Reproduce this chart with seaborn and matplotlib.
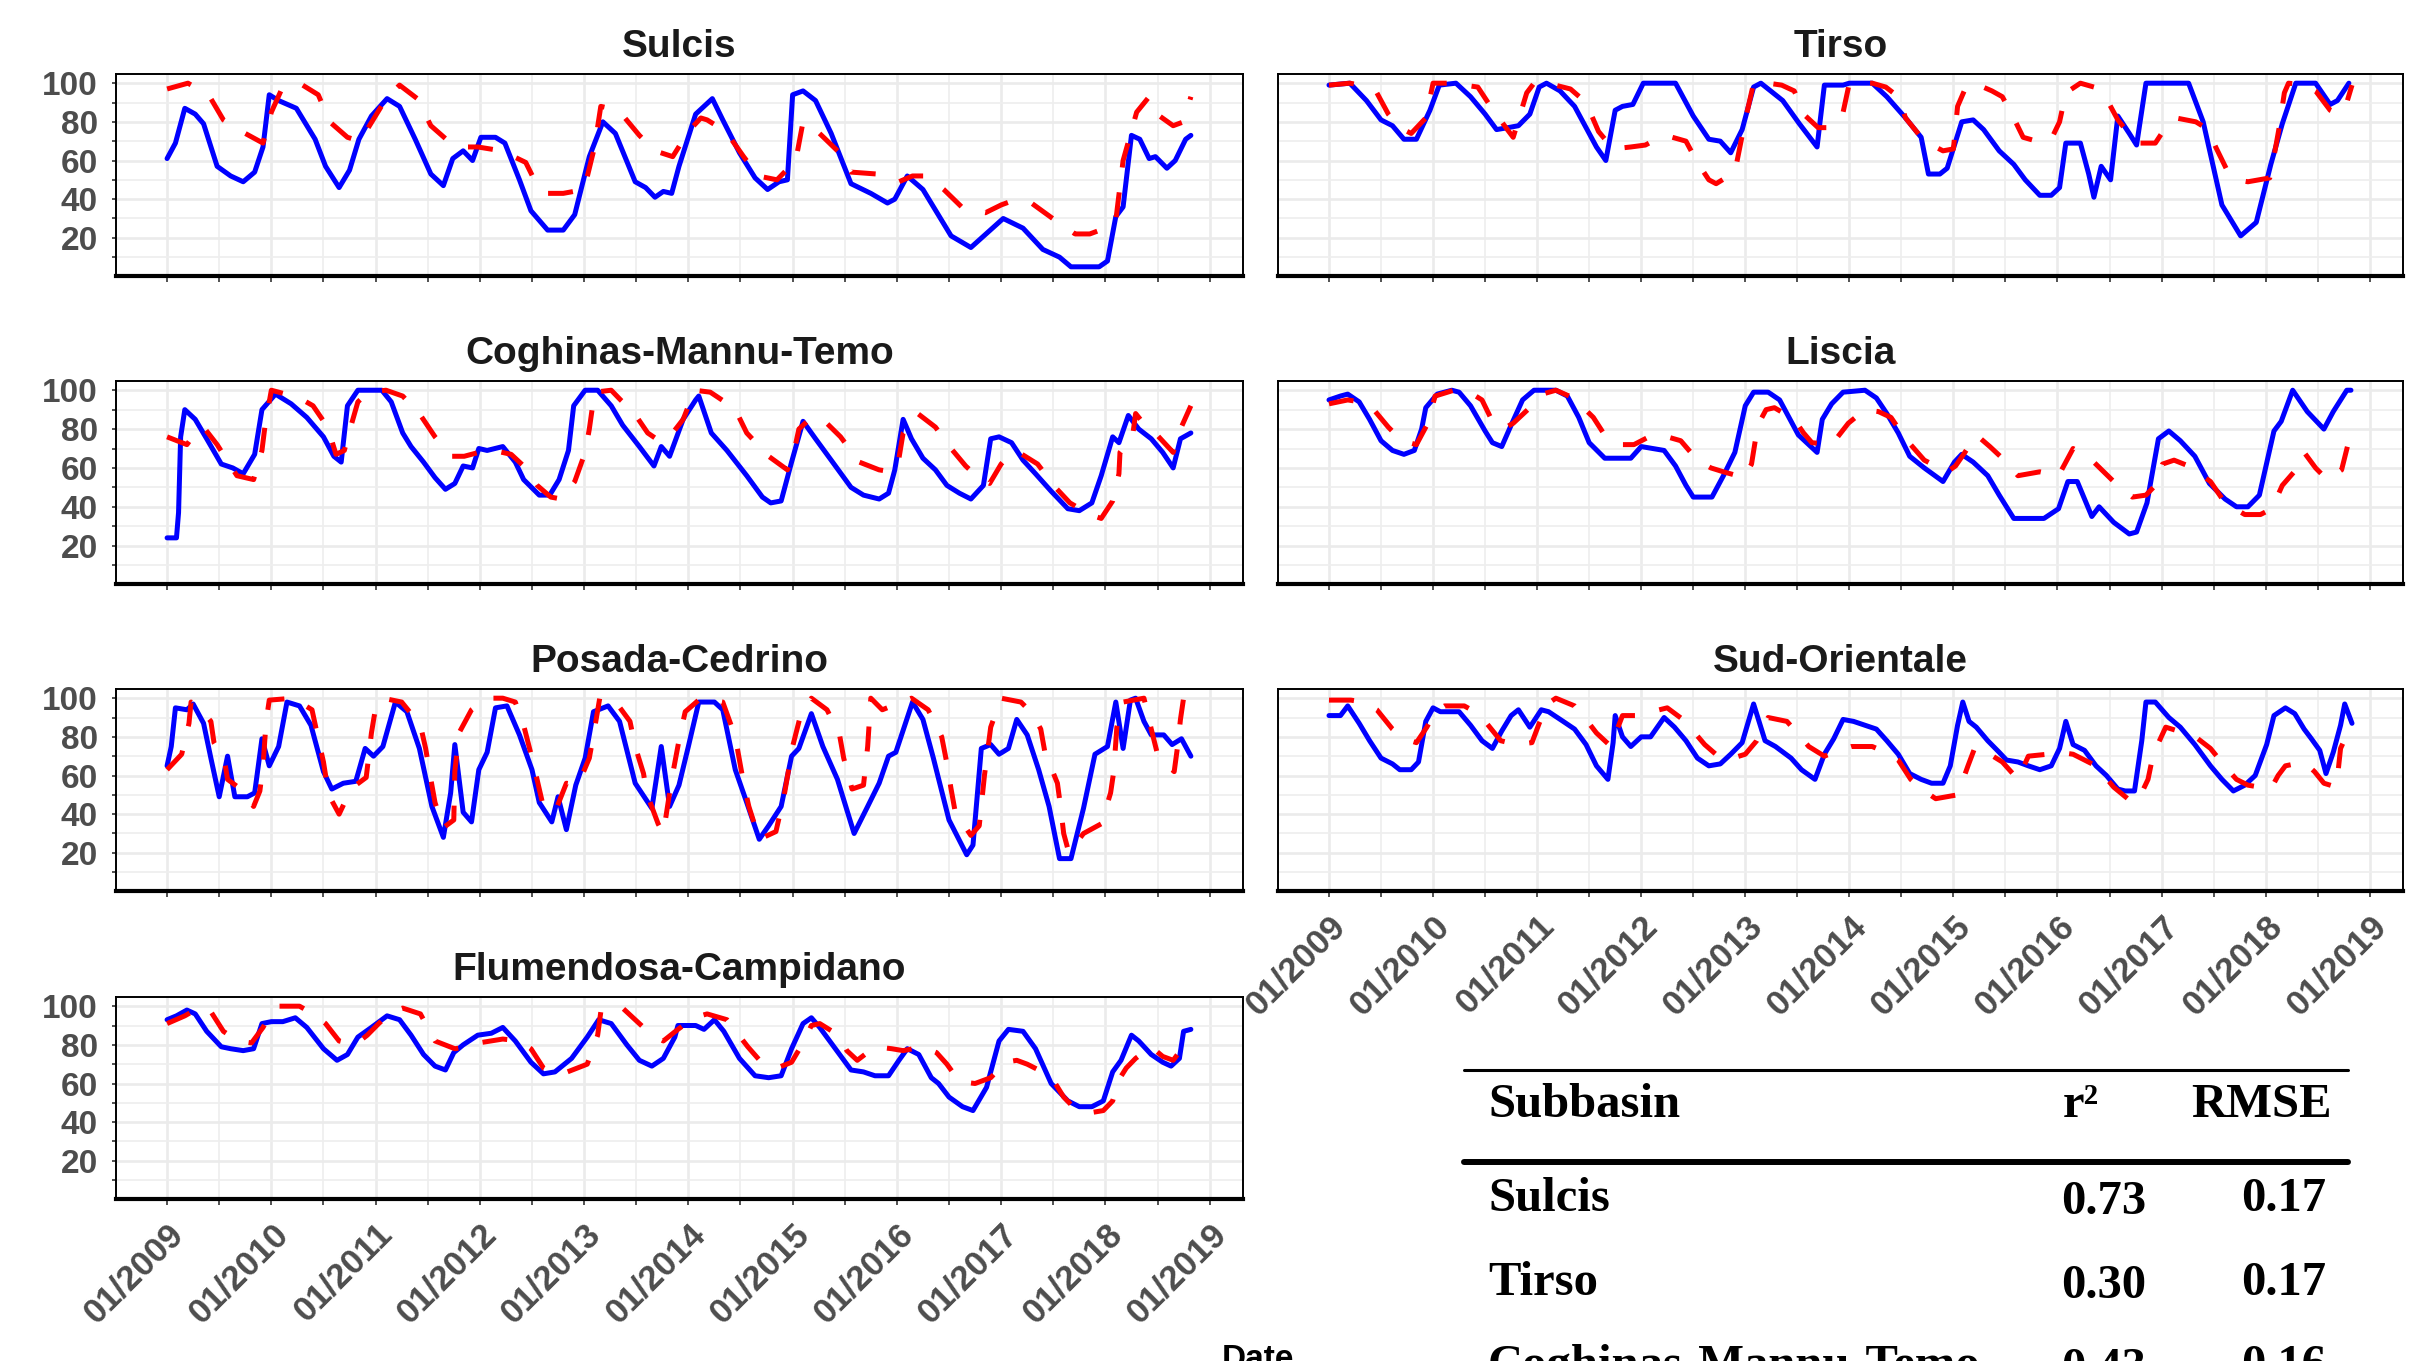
import numpy as np
import pandas as pd
import matplotlib
matplotlib.use('Agg')
import matplotlib.pyplot as plt
import seaborn as sns
from matplotlib.lines import Line2D

# values: (decimal year, % of capacity)
sulcis_obs = [(2009.0,61),(2009.08,69),(2009.17,87),(2009.27,84),(2009.35,79),(2009.48,57),(2009.61,52),(2009.73,49),(2009.84,54),(2009.92,67),(2009.98,94),(2010.07,91),(2010.24,87),(2010.42,71),(2010.52,57),(2010.65,46),(2010.75,55),(2010.84,71),(2010.96,83),(2011.11,92),(2011.23,88),(2011.38,71),(2011.53,53),(2011.65,47),(2011.74,61),(2011.84,65),(2011.93,60),(2012.01,72),(2012.15,72),(2012.24,69),(2012.38,50),(2012.49,34),(2012.65,24),(2012.8,24),(2012.91,32),(2013.05,62),(2013.18,80),(2013.3,74),(2013.49,49),(2013.59,46),(2013.68,41),(2013.76,44),(2013.84,43),(2013.91,57),(2014.07,84),(2014.23,92),(2014.33,81),(2014.49,64),(2014.64,51),(2014.76,45),(2014.87,49),(2014.95,50),(2015.0,94),(2015.1,96),(2015.22,91),(2015.37,74),(2015.56,48),(2015.75,43),(2015.91,38),(2015.98,40),(2016.1,52),(2016.25,45),(2016.52,21),(2016.71,15),(2017.02,30),(2017.21,25),(2017.4,14),(2017.56,10),(2017.67,5),(2017.94,5),(2018.02,8),(2018.1,31),(2018.17,36),(2018.25,73),(2018.33,71),(2018.42,61),(2018.48,62),(2018.59,56),(2018.67,60),(2018.77,71),(2018.82,73)]
sulcis_sim = [(2009.0,97),(2009.2,100),(2009.3,97),(2009.42,92),(2009.54,81),(2009.75,74),(2009.92,69),(2010.0,85),(2010.1,97),(2010.27,100),(2010.45,94),(2010.56,80),(2010.73,72),(2010.85,70),(2010.93,77),(2011.1,92),(2011.23,99),(2011.4,92),(2011.53,78),(2011.72,69),(2011.85,67),(2011.98,67),(2012.21,65),(2012.44,59),(2012.55,47),(2012.65,43),(2012.8,43),(2013.0,45),(2013.1,67),(2013.16,88),(2013.33,86),(2013.53,73),(2013.68,65),(2013.85,62),(2014.0,75),(2014.12,82),(2014.18,81),(2014.36,75),(2014.53,62),(2014.67,52),(2014.85,50),(2015.03,60),(2015.1,80),(2015.22,76),(2015.45,64),(2015.56,54),(2015.81,53),(2016.02,49),(2016.15,52),(2016.29,52),(2016.45,45),(2016.64,35),(2016.85,33),(2017.0,37),(2017.1,39),(2017.29,38),(2017.52,29),(2017.71,22),(2017.85,22),(2018.0,25),(2018.1,29),(2018.17,60),(2018.3,85),(2018.42,93),(2018.52,83),(2018.65,78),(2018.75,80),(2018.82,93)]

tirso_obs = [(2009.0,99),(2009.2,100),(2009.36,91),(2009.5,81),(2009.61,78),(2009.72,71),(2009.84,71),(2009.97,86),(2010.06,99),(2010.22,100),(2010.36,93),(2010.5,84),(2010.61,76),(2010.72,77),(2010.82,78),(2010.93,84),(2011.02,98),(2011.09,100),(2011.22,96),(2011.36,88),(2011.47,77),(2011.57,67),(2011.66,60),(2011.75,86),(2011.82,88),(2011.92,89),(2012.02,100),(2012.33,100),(2012.5,83),(2012.65,71),(2012.76,70),(2012.86,64),(2012.97,76),(2013.08,98),(2013.15,100),(2013.36,91),(2013.52,79),(2013.69,67),(2013.76,99),(2013.94,99),(2014.0,100),(2014.22,100),(2014.36,93),(2014.54,82),(2014.69,72),(2014.76,53),(2014.87,53),(2014.94,56),(2015.08,80),(2015.19,81),(2015.29,76),(2015.44,65),(2015.58,58),(2015.69,50),(2015.83,42),(2015.94,42),(2016.02,46),(2016.08,69),(2016.22,69),(2016.3,53),(2016.35,41),(2016.42,57),(2016.51,50),(2016.58,83),(2016.69,74),(2016.76,68),(2016.85,100),(2017.26,100),(2017.4,80),(2017.58,37),(2017.76,21),(2017.91,28),(2018.05,58),(2018.16,79),(2018.29,100),(2018.48,100),(2018.62,89),(2018.69,91),(2018.8,100)]
tirso_sim = [(2009.0,99),(2009.2,100),(2009.3,99),(2009.46,95),(2009.57,84),(2009.68,77),(2009.79,74),(2009.93,82),(2010.0,100),(2010.14,100),(2010.3,99),(2010.43,98),(2010.54,89),(2010.7,77),(2010.77,72),(2010.9,95),(2010.97,100),(2011.1,100),(2011.32,97),(2011.47,90),(2011.59,75),(2011.73,66),(2011.9,67),(2012.04,68),(2012.18,72),(2012.3,72),(2012.43,70),(2012.54,59),(2012.65,50),(2012.72,48),(2012.9,54),(2013.0,81),(2013.08,100),(2013.22,100),(2013.35,99),(2013.47,96),(2013.58,83),(2013.7,77),(2013.83,77),(2013.94,85),(2014.0,100),(2014.22,100),(2014.35,98),(2014.47,93),(2014.54,82),(2014.72,70),(2014.9,65),(2015.0,66),(2015.04,88),(2015.12,98),(2015.2,100),(2015.37,96),(2015.47,93),(2015.57,83),(2015.67,72),(2015.8,70),(2015.94,71),(2016.02,80),(2016.08,95),(2016.22,100),(2016.35,98),(2016.47,92),(2016.58,81),(2016.76,69),(2016.94,69),(2017.05,78),(2017.14,82),(2017.33,80),(2017.45,76),(2017.52,67),(2017.62,56),(2017.72,50),(2017.83,49),(2018.04,51),(2018.09,65),(2018.13,77),(2018.18,95),(2018.22,100),(2018.38,99),(2018.48,96),(2018.62,86),(2018.7,84),(2018.78,90),(2018.83,99)]

coghinas_obs = [(2009.0,24),(2009.09,24),(2009.11,37),(2009.13,76),(2009.17,90),(2009.27,85),(2009.38,75),(2009.52,62),(2009.63,60),(2009.73,57),(2009.84,67),(2009.91,90),(2010.04,98),(2010.19,93),(2010.34,86),(2010.5,76),(2010.6,66),(2010.67,63),(2010.73,92),(2010.83,100),(2011.06,100),(2011.15,94),(2011.26,78),(2011.34,71),(2011.46,63),(2011.57,55),(2011.67,49),(2011.76,52),(2011.84,61),(2011.93,60),(2011.99,70),(2012.07,69),(2012.22,71),(2012.34,63),(2012.42,54),(2012.57,46),(2012.67,46),(2012.76,54),(2012.85,69),(2012.9,92),(2013.01,100),(2013.13,100),(2013.26,92),(2013.37,82),(2013.53,71),(2013.67,61),(2013.74,71),(2013.82,66),(2013.95,85),(2014.07,95),(2014.1,97),(2014.22,78),(2014.37,69),(2014.56,56),(2014.71,45),(2014.79,42),(2014.89,43),(2014.99,63),(2015.1,84),(2015.22,75),(2015.37,64),(2015.56,50),(2015.68,46),(2015.83,44),(2015.92,47),(2015.98,59),(2016.06,85),(2016.14,75),(2016.25,65),(2016.37,59),(2016.48,51),(2016.6,47),(2016.71,44),(2016.83,51),(2016.9,75),(2016.98,76),(2017.1,73),(2017.21,64),(2017.33,57),(2017.48,48),(2017.64,39),(2017.75,38),(2017.87,42),(2017.96,56),(2018.07,76),(2018.13,73),(2018.22,87),(2018.32,80),(2018.44,75),(2018.55,68),(2018.65,60),(2018.72,75),(2018.82,78)]
coghinas_sim = [(2009.0,76),(2009.19,72),(2009.27,78),(2009.35,81),(2009.48,72),(2009.67,56),(2009.83,54),(2009.91,69),(2009.94,82),(2010.0,100),(2010.14,98),(2010.27,96),(2010.4,92),(2010.54,81),(2010.62,67),(2010.7,69),(2010.75,79),(2010.83,94),(2010.93,99),(2011.1,100),(2011.26,97),(2011.42,88),(2011.57,76),(2011.73,66),(2011.85,66),(2011.99,68),(2012.13,69),(2012.3,67),(2012.42,61),(2012.55,51),(2012.68,45),(2012.78,44),(2012.91,53),(2013.01,68),(2013.05,80),(2013.1,99),(2013.26,100),(2013.35,95),(2013.47,89),(2013.61,78),(2013.72,74),(2013.82,76),(2013.95,85),(2014.06,100),(2014.21,99),(2014.35,94),(2014.46,89),(2014.56,78),(2014.77,66),(2014.95,59),(2015.02,70),(2015.06,80),(2015.18,86),(2015.29,85),(2015.46,76),(2015.64,63),(2015.83,59),(2015.95,58),(2016.02,65),(2016.06,78),(2016.2,88),(2016.37,81),(2016.52,70),(2016.66,61),(2016.78,55),(2016.89,52),(2017.0,62),(2017.1,68),(2017.17,68),(2017.35,62),(2017.52,50),(2017.66,42),(2017.85,36),(2017.96,34),(2018.07,43),(2018.13,57),(2018.14,68),(2018.26,76),(2018.29,88),(2018.38,82),(2018.46,79),(2018.65,68),(2018.72,80),(2018.82,92)]

liscia_obs = [(2009.0,95),(2009.11,97),(2009.18,98),(2009.29,94),(2009.39,85),(2009.5,74),(2009.61,69),(2009.72,67),(2009.82,69),(2009.89,80),(2009.93,91),(2010.04,98),(2010.18,100),(2010.25,99),(2010.36,92),(2010.5,79),(2010.57,73),(2010.66,71),(2010.75,82),(2010.86,95),(2010.97,100),(2011.18,100),(2011.29,97),(2011.4,86),(2011.5,73),(2011.65,65),(2011.9,65),(2012.0,71),(2012.22,69),(2012.33,61),(2012.43,51),(2012.5,45),(2012.68,45),(2012.79,56),(2012.9,68),(2013.0,92),(2013.08,99),(2013.22,99),(2013.33,95),(2013.51,77),(2013.69,68),(2013.74,85),(2013.83,93),(2013.94,99),(2014.15,100),(2014.26,96),(2014.36,88),(2014.47,78),(2014.58,66),(2014.72,60),(2014.9,53),(2015.01,63),(2015.08,67),(2015.19,63),(2015.33,56),(2015.44,46),(2015.58,34),(2015.87,34),(2016.01,39),(2016.1,53),(2016.19,53),(2016.26,44),(2016.33,35),(2016.4,40),(2016.54,32),(2016.69,26),(2016.76,27),(2016.86,42),(2016.97,75),(2017.07,79),(2017.18,74),(2017.32,66),(2017.46,52),(2017.61,44),(2017.72,40),(2017.83,40),(2017.94,46),(2018.08,79),(2018.15,84),(2018.26,100),(2018.4,89),(2018.56,80),(2018.65,89),(2018.78,100),(2018.82,100)]
liscia_sim = [(2009.0,93),(2009.18,95),(2009.3,94),(2009.43,90),(2009.57,81),(2009.7,74),(2009.84,72),(2009.94,82),(2010.02,97),(2010.2,100),(2010.35,99),(2010.47,95),(2010.57,84),(2010.67,80),(2010.77,83),(2010.93,91),(2011.05,98),(2011.18,100),(2011.35,96),(2011.54,86),(2011.66,76),(2011.8,72),(2011.93,72),(2012.11,77),(2012.25,76),(2012.38,74),(2012.54,64),(2012.67,60),(2012.79,58),(2012.99,55),(2013.06,62),(2013.12,82),(2013.2,90),(2013.28,91),(2013.47,85),(2013.56,78),(2013.64,73),(2013.83,72),(2013.99,83),(2014.15,90),(2014.28,89),(2014.4,86),(2014.54,75),(2014.72,64),(2014.94,58),(2015.02,61),(2015.11,68),(2015.22,77),(2015.35,71),(2015.47,65),(2015.62,56),(2015.83,58),(2016.01,56),(2016.08,63),(2016.15,70),(2016.33,64),(2016.54,53),(2016.72,45),(2016.85,46),(2016.94,51),(2017.01,62),(2017.12,64),(2017.26,61),(2017.47,53),(2017.61,42),(2017.8,36),(2017.95,36),(2018.06,39),(2018.16,51),(2018.29,59),(2018.37,68),(2018.48,60),(2018.59,54),(2018.73,59),(2018.8,74),(2018.83,80)]

posada_obs = [(2009.0,65),(2009.04,75),(2009.08,95),(2009.19,94),(2009.25,97),(2009.35,87),(2009.42,69),(2009.5,49),(2009.58,70),(2009.65,49),(2009.77,49),(2009.84,51),(2009.91,79),(2009.98,65),(2010.07,75),(2010.15,98),(2010.27,96),(2010.38,86),(2010.5,62),(2010.58,53),(2010.69,56),(2010.81,57),(2010.9,74),(2010.98,70),(2011.07,75),(2011.19,98),(2011.3,93),(2011.42,74),(2011.54,44),(2011.65,28),(2011.72,51),(2011.76,76),(2011.84,41),(2011.92,36),(2011.99,63),(2012.07,72),(2012.15,95),(2012.26,96),(2012.38,81),(2012.5,63),(2012.57,46),(2012.69,36),(2012.75,49),(2012.83,32),(2012.92,55),(2013.01,69),(2013.09,93),(2013.23,96),(2013.34,88),(2013.49,56),(2013.65,43),(2013.74,75),(2013.82,44),(2013.91,55),(2014.0,75),(2014.1,98),(2014.25,98),(2014.33,94),(2014.45,63),(2014.56,46),(2014.68,27),(2014.77,34),(2014.89,44),(2014.99,70),(2015.06,74),(2015.18,92),(2015.29,75),(2015.43,58),(2015.59,30),(2015.72,44),(2015.83,56),(2015.92,70),(2015.99,72),(2016.15,98),(2016.25,89),(2016.35,69),(2016.5,37),(2016.67,19),(2016.73,24),(2016.81,74),(2016.9,76),(2016.98,71),(2017.07,74),(2017.15,89),(2017.25,81),(2017.36,63),(2017.46,44),(2017.56,17),(2017.67,17),(2017.79,43),(2017.9,71),(2018.02,75),(2018.1,98),(2018.17,74),(2018.24,99),(2018.29,100),(2018.37,88),(2018.44,81),(2018.56,81),(2018.64,76),(2018.73,79),(2018.82,70)]
posada_sim = [(2009.0,63),(2009.14,71),(2009.21,87),(2009.23,98),(2009.3,96),(2009.42,88),(2009.45,77),(2009.55,68),(2009.58,58),(2009.68,54),(2009.83,44),(2009.89,52),(2009.92,65),(2009.95,88),(2009.98,99),(2010.21,100),(2010.39,94),(2010.45,79),(2010.5,67),(2010.55,50),(2010.65,40),(2010.72,48),(2010.81,55),(2010.91,59),(2010.96,82),(2011.0,95),(2011.07,100),(2011.25,98),(2011.43,86),(2011.48,74),(2011.53,58),(2011.57,46),(2011.65,33),(2011.75,37),(2011.76,62),(2011.8,82),(2011.92,94),(2012.07,100),(2012.22,100),(2012.34,98),(2012.42,86),(2012.51,67),(2012.6,46),(2012.72,41),(2012.83,56),(2012.94,55),(2013.05,69),(2013.09,81),(2013.15,100),(2013.29,99),(2013.44,88),(2013.49,75),(2013.57,61),(2013.6,51),(2013.71,35),(2013.76,30),(2013.84,58),(2013.92,81),(2013.97,93),(2014.12,100),(2014.33,98),(2014.45,80),(2014.53,56),(2014.58,44),(2014.68,27),(2014.84,31),(2014.92,50),(2015.0,75),(2015.08,92),(2015.18,100),(2015.33,94),(2015.45,81),(2015.49,69),(2015.57,53),(2015.68,55),(2015.72,75),(2015.75,100),(2015.86,94),(2016.0,97),(2016.14,100),(2016.3,94),(2016.43,80),(2016.47,69),(2016.52,53),(2016.56,41),(2016.71,29),(2016.79,34),(2016.84,60),(2016.9,85),(2017.0,100),(2017.19,98),(2017.3,92),(2017.38,84),(2017.42,72),(2017.54,56),(2017.57,44),(2017.6,30),(2017.65,20),(2017.79,30),(2017.96,35),(2018.05,51),(2018.08,62),(2018.11,85),(2018.17,98),(2018.37,100),(2018.44,84),(2018.5,71),(2018.58,66),(2018.66,62),(2018.69,74),(2018.72,89),(2018.75,100)]

sud_obs = [(2009.0,91),(2009.11,91),(2009.18,96),(2009.29,87),(2009.39,78),(2009.5,69),(2009.61,66),(2009.68,63),(2009.79,63),(2009.86,67),(2009.93,88),(2010.0,95),(2010.07,93),(2010.25,93),(2010.36,86),(2010.47,78),(2010.57,74),(2010.66,83),(2010.75,91),(2010.82,94),(2010.93,85),(2011.04,94),(2011.11,93),(2011.25,88),(2011.36,84),(2011.47,76),(2011.57,65),(2011.68,58),(2011.73,77),(2011.75,91),(2011.82,80),(2011.9,75),(2012.0,80),(2012.09,80),(2012.22,90),(2012.32,85),(2012.43,78),(2012.54,69),(2012.65,65),(2012.76,66),(2012.86,71),(2012.97,77),(2013.08,97),(2013.19,78),(2013.29,75),(2013.44,69),(2013.54,63),(2013.67,58),(2013.76,71),(2013.85,79),(2013.94,89),(2014.04,88),(2014.15,86),(2014.26,84),(2014.36,78),(2014.47,71),(2014.58,61),(2014.69,58),(2014.79,56),(2014.9,56),(2014.97,65),(2015.04,86),(2015.09,98),(2015.15,88),(2015.22,85),(2015.33,78),(2015.44,72),(2015.51,68),(2015.62,67),(2015.72,65),(2015.83,63),(2015.94,65),(2016.02,74),(2016.08,88),(2016.15,76),(2016.26,73),(2016.37,65),(2016.47,60),(2016.58,53),(2016.65,52),(2016.74,52),(2016.81,78),(2016.85,98),(2016.94,98),(2017.07,90),(2017.18,85),(2017.32,76),(2017.47,65),(2017.58,58),(2017.69,52),(2017.8,55),(2017.9,60),(2018.01,76),(2018.08,91),(2018.19,95),(2018.28,92),(2018.37,84),(2018.44,79),(2018.52,73),(2018.58,61),(2018.65,72),(2018.72,86),(2018.76,97),(2018.83,87)]
sud_sim = [(2009.0,99),(2009.21,99),(2009.33,98),(2009.46,94),(2009.61,84),(2009.72,79),(2009.84,77),(2009.94,85),(2010.02,93),(2010.11,96),(2010.3,96),(2010.4,93),(2010.5,88),(2010.65,78),(2010.8,76),(2010.95,77),(2011.02,87),(2011.1,97),(2011.18,100),(2011.36,96),(2011.47,89),(2011.57,82),(2011.71,75),(2011.77,84),(2011.82,91),(2011.96,91),(2012.1,93),(2012.25,95),(2012.4,89),(2012.5,83),(2012.61,76),(2012.76,69),(2012.88,69),(2013.0,71),(2013.11,78),(2013.22,90),(2013.4,88),(2013.5,82),(2013.61,75),(2013.76,70),(2013.9,73),(2014.02,75),(2014.22,75),(2014.35,72),(2014.47,68),(2014.59,58),(2014.72,52),(2014.83,48),(2015.04,50),(2015.14,65),(2015.21,75),(2015.35,71),(2015.47,67),(2015.62,58),(2015.72,70),(2015.9,71),(2016.02,72),(2016.15,71),(2016.37,65),(2016.54,54),(2016.72,46),(2016.8,50),(2016.87,58),(2016.92,71),(2017.04,85),(2017.22,82),(2017.35,79),(2017.47,74),(2017.62,64),(2017.72,58),(2017.83,55),(2018.05,53),(2018.12,60),(2018.19,65),(2018.37,67),(2018.47,62),(2018.56,56),(2018.68,54),(2018.72,74),(2018.83,87)]

flumendosa_obs = [(2009.0,93),(2009.09,95),(2009.19,98),(2009.27,96),(2009.38,87),(2009.52,79),(2009.61,78),(2009.73,77),(2009.83,78),(2009.91,91),(2010.0,92),(2010.11,92),(2010.23,94),(2010.34,89),(2010.5,78),(2010.63,72),(2010.73,75),(2010.83,84),(2010.96,89),(2011.11,95),(2011.23,93),(2011.34,85),(2011.46,75),(2011.57,69),(2011.67,67),(2011.75,76),(2011.84,80),(2011.98,85),(2012.11,86),(2012.22,89),(2012.34,82),(2012.49,71),(2012.61,65),(2012.72,66),(2012.88,73),(2013.03,84),(2013.14,93),(2013.26,91),(2013.41,80),(2013.53,72),(2013.65,69),(2013.76,73),(2013.87,84),(2013.9,90),(2014.07,90),(2014.15,88),(2014.25,93),(2014.34,87),(2014.49,73),(2014.64,64),(2014.77,63),(2014.89,64),(2014.99,78),(2015.1,91),(2015.18,94),(2015.26,89),(2015.41,78),(2015.56,67),(2015.68,66),(2015.79,64),(2015.92,64),(2016.02,72),(2016.1,78),(2016.21,75),(2016.33,63),(2016.4,60),(2016.5,53),(2016.63,48),(2016.73,46),(2016.86,58),(2016.98,82),(2017.07,88),(2017.21,87),(2017.33,78),(2017.48,60),(2017.64,51),(2017.75,48),(2017.87,48),(2017.98,51),(2018.07,66),(2018.15,72),(2018.25,85),(2018.32,82),(2018.44,75),(2018.55,71),(2018.63,69),(2018.71,73),(2018.75,87),(2018.82,88)]
flumendosa_sim = [(2009.0,91),(2009.17,95),(2009.3,99),(2009.41,98),(2009.54,87),(2009.68,82),(2009.81,81),(2009.92,89),(2010.0,97),(2010.07,100),(2010.27,100),(2010.4,96),(2010.52,91),(2010.65,82),(2010.8,80),(2010.92,85),(2011.03,91),(2011.15,97),(2011.26,99),(2011.43,96),(2011.5,89),(2011.57,82),(2011.76,78),(2011.88,79),(2011.99,81),(2012.22,83),(2012.38,82),(2012.49,78),(2012.61,68),(2012.72,65),(2012.84,66),(2013.03,70),(2013.13,85),(2013.16,97),(2013.25,100),(2013.37,99),(2013.53,91),(2013.65,85),(2013.76,82),(2013.9,88),(2014.05,94),(2014.18,96),(2014.37,93),(2014.47,86),(2014.57,79),(2014.7,71),(2014.85,68),(2014.99,71),(2015.1,81),(2015.18,90),(2015.26,91),(2015.44,85),(2015.52,77),(2015.62,72),(2015.79,79),(2015.95,78),(2016.06,77),(2016.25,79),(2016.38,76),(2016.48,70),(2016.6,61),(2016.75,60),(2016.9,63),(2017.04,71),(2017.15,72),(2017.25,70),(2017.36,67),(2017.52,60),(2017.6,53),(2017.69,48),(2017.87,45),(2017.98,46),(2018.07,51),(2018.13,62),(2018.2,68),(2018.29,73),(2018.44,79),(2018.55,74),(2018.65,72),(2018.76,80)]

# panel name, observed, simulated, column, row
panels = [
    ('Sulcis', sulcis_obs, sulcis_sim, 0, 0),
    ('Tirso', tirso_obs, tirso_sim, 1, 0),
    ('Coghinas-Mannu-Temo', coghinas_obs, coghinas_sim, 0, 1),
    ('Liscia', liscia_obs, liscia_sim, 1, 1),
    ('Posada-Cedrino', posada_obs, posada_sim, 0, 2),
    ('Sud-Orientale', sud_obs, sud_sim, 1, 2),
    ('Flumendosa-Campidano', flumendosa_obs, flumendosa_sim, 0, 3),
]

years = list(range(2009, 2020))
year_labels = ['01/%d' % y for y in years]
y_ticks = [20, 40, 60, 80, 100]

table_header = ['Subbasin', 'r²', 'RMSE']
table_names = ['Sulcis', 'Tirso', 'Coghinas-Mannu-Temo']
table_r2 = ['0.73', '0.30', '0.43']
table_rmse = ['0.17', '0.17', '0.16']

sns.set_theme(style='white')
plt.rcParams['font.family'] = ['Liberation Sans', 'DejaVu Sans']

W, H = 2435, 1361
fig = plt.figure(figsize=(W / 100, H / 100), dpi=100)
fig.patch.set_facecolor('white')

cols = [(116, 1243), (1278, 2403)]
rows = [(74, 276), (381, 584), (689, 891), (997, 1199)]

def px_box(x0, x1, y0, y1):
    return [x0 / W, 1 - y1 / H, (x1 - x0) / W, (y1 - y0) / H]

bottom_panels = ['Flumendosa-Campidano', 'Sud-Orientale']

for name, obs, sim, c, r in panels:
    ax = fig.add_axes(px_box(cols[c][0], cols[c][1], rows[r][0], rows[r][1]))
    ax.set_facecolor('white')
    d_obs = pd.DataFrame(obs, columns=['t', 'v'])
    d_sim = pd.DataFrame(sim, columns=['t', 'v'])
    sns.lineplot(data=d_obs, x='t', y='v', ax=ax, color='#0000FF', lw=3.6,
                 estimator=None, sort=False)
    sns.lineplot(data=d_sim, x='t', y='v', ax=ax, color='#FF0000', lw=3.6,
                 estimator=None, sort=False)
    ax.lines[-1].set_linestyle((0, (5, 5)))
    ax.lines[0].set_solid_joinstyle('round')

    ax.set_xlim(2008.51, 2019.32)
    ax.set_ylim(0.25, 104.75)
    ax.set_xticks(years)
    ax.set_xticks([y + 0.5 for y in years[:-1]], minor=True)
    ax.set_yticks(y_ticks)
    ax.set_yticks([10, 30, 50, 70, 90], minor=True)
    ax.grid(which='major', color='#EBEBEB', lw=1.9)
    ax.grid(which='minor', color='#EEEEEE', lw=1.2)
    ax.set_axisbelow(True)
    ax.set_xlabel('')
    ax.set_ylabel('')

    for s in ax.spines.values():
        s.set_visible(True)
        s.set_color('black')
        s.set_linewidth(1.4)
    ax.spines['bottom'].set_linewidth(3.0)

    ax.tick_params(axis='x', which='both', bottom=True, length=4, width=1.2,
                   color='#333333', pad=9)
    if c == 0:
        ax.tick_params(axis='y', which='both', left=True, length=3, width=1.2,
                       color='#333333', pad=10)
        ax.set_yticklabels([str(v) for v in y_ticks], fontsize=24,
                           fontweight='bold', color='#4D4D4D')
    else:
        ax.tick_params(axis='y', which='both', left=False, labelleft=False)

    if name in bottom_panels:
        ax.set_xticklabels(year_labels, rotation=45, ha='right', va='top',
                           rotation_mode='anchor', fontsize=25,
                           fontweight='bold', color='#4D4D4D')
    else:
        ax.tick_params(axis='x', labelbottom=False)

    ax.set_title(name, fontsize=28, fontweight='bold', color='#1A1A1A', pad=12)

# axis title, partly cut off at the bottom edge as in the source
fig.text(1222 / W, 1 - 1368 / H, 'Date', fontsize=24, fontweight='bold',
         ha='left', va='baseline', color='black')

# statistics table pasted at lower right
fig.add_artist(Line2D([1464 / W, 2348 / W], [1 - 1070 / H] * 2, color='black', lw=2.2))
fig.add_artist(Line2D([1464 / W, 2348 / W], [1 - 1162 / H] * 2, color='black', lw=4.3))

tkw = dict(fontsize=35, fontweight='bold', color='black',
           family=['Liberation Serif', 'DejaVu Serif'])
hy = 1 - 1117 / H
fig.text(1488 / W, hy, table_header[0], ha='left', va='baseline', **tkw)
fig.text(2063 / W, hy, table_header[1], ha='left', va='baseline', **tkw)
fig.text(2332 / W, hy, table_header[2], ha='right', va='baseline', **tkw)

row_base = [1211, 1295, 1378]
for name, r2, rmse, yb in zip(table_names, table_r2, table_rmse, row_base):
    fig.text(1488 / W, 1 - yb / H, name, ha='left', va='baseline', **tkw)
    fig.text(2146 / W, 1 - (yb + 3) / H, r2, ha='right', va='baseline', **tkw)
    fig.text(2326 / W, 1 - yb / H, rmse, ha='right', va='baseline', **tkw)

fig.savefig('out.png', dpi=100, facecolor='white')
